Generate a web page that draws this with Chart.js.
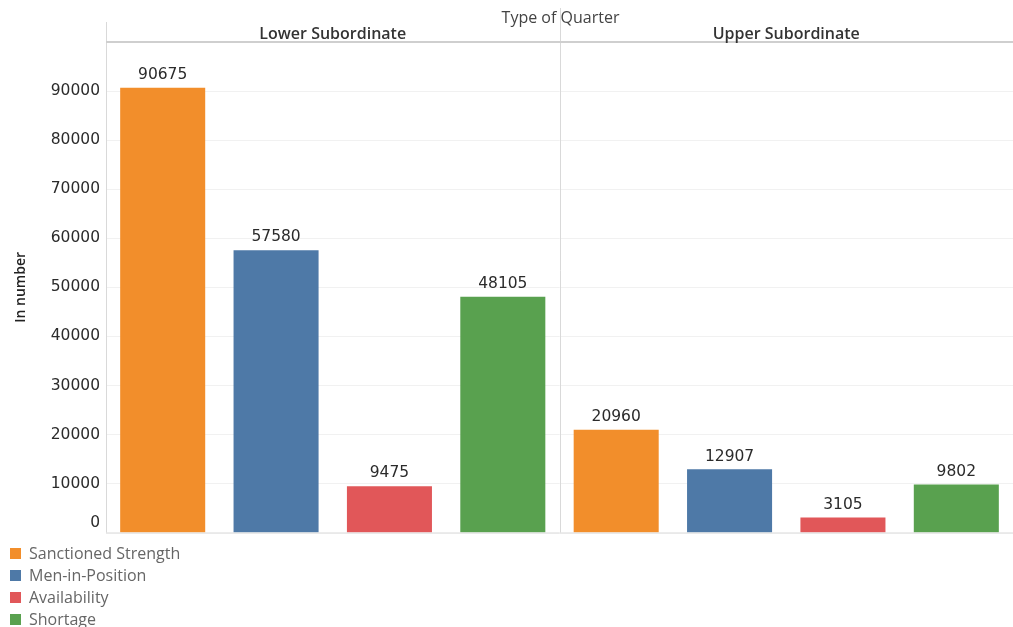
<!DOCTYPE html>
<html>
<head>
<meta charset="utf-8">
<script src="https://cdn.jsdelivr.net/npm/chart.js@4"></script>
<style>
  html, body { margin: 0; padding: 0; background: #fff; }
  #wrap { position: relative; width: 1013px; height: 627px; overflow: hidden; }
  #chartBox { position: absolute; left: 0; top: 0; width: 1013px; height: 548px; }
  #legend { position: absolute; left: 10px; top: 542px; font-family: "Open Sans", sans-serif; font-size: 16px; color: #666; }
  #legend div { height: 22px; line-height: 22px; display: flex; align-items: center; white-space: nowrap; }
  #legend span.sw { display: inline-block; width: 11px; height: 11px; margin-right: 8px; }
</style>
</head>
<body>
<div id="wrap">
  <div id="chartBox"><canvas id="c"></canvas></div>
  <div id="legend"></div>
</div>
<script>
const axisTitle = 'Type of Quarter';
const quarterTypes = ['Lower Subordinate', 'Upper Subordinate'];
const seriesNames = ['Sanctioned Strength', 'Men-in-Position', 'Availability', 'Shortage'];
const seriesColors = ['#F28E2B', '#4E79A7', '#E15759', '#59A14F'];
const sanctionedStrength = [90675, 20960];
const menInPosition = [57580, 12907];
const availability = [9475, 3105];
const shortage = [48105, 9802];
const yTicks = [0, 10000, 20000, 30000, 40000, 50000, 60000, 70000, 80000, 90000];
const yTitle = 'In number';

const seriesValues = [sanctionedStrength, menInPosition, availability, shortage];
const nS = seriesNames.length;

// one slot per (quarter type, series)
const labels = [];
quarterTypes.forEach(q => seriesNames.forEach(s => labels.push(q + ' | ' + s)));

const datasets = seriesNames.map((name, si) => {
  const data = labels.map(() => null);
  quarterTypes.forEach((q, qi) => { data[qi * nS + si] = seriesValues[si][qi]; });
  return {
    label: name,
    data,
    backgroundColor: seriesColors[si],
    borderWidth: 0,
    grouped: false,
    barPercentage: 0.75,
    categoryPercentage: 1.0
  };
});

// HTML legend
const lg = document.getElementById('legend');
seriesNames.forEach((n, i) => {
  const d = document.createElement('div');
  const sw = document.createElement('span');
  sw.className = 'sw';
  sw.style.background = seriesColors[i];
  d.appendChild(sw);
  d.appendChild(document.createTextNode(n));
  lg.appendChild(d);
});

const decor = {
  id: 'decor',
  beforeDatasetsDraw(chart) {
    const ctx = chart.ctx;
    const ca = chart.chartArea;
    const x = chart.scales.x;
    ctx.save();
    ctx.strokeStyle = '#d9d9d9';
    ctx.lineWidth = 1;
    // left axis line
    ctx.beginPath(); ctx.moveTo(106.5, 22); ctx.lineTo(106.5, ca.bottom); ctx.stroke();
    // pane dividers
    for (let q = 1; q < quarterTypes.length; q++) {
      const px = Math.round((x.getPixelForValue(q * nS - 1) + x.getPixelForValue(q * nS)) / 2) + 0.5;
      ctx.beginPath(); ctx.moveTo(px, 8); ctx.lineTo(px, ca.bottom); ctx.stroke();
    }
    // header bottom line
    ctx.strokeStyle = '#cfcfcf';
    ctx.lineWidth = 2;
    ctx.beginPath(); ctx.moveTo(106, ca.top); ctx.lineTo(1013, ca.top); ctx.stroke();
    // baseline
    ctx.strokeStyle = '#e0e0e0';
    ctx.lineWidth = 1;
    ctx.beginPath(); ctx.moveTo(106, ca.bottom + 0.5); ctx.lineTo(1013, ca.bottom + 0.5); ctx.stroke();
    ctx.restore();
  },
  afterDatasetsDraw(chart) {
    const ctx = chart.ctx;
    const x = chart.scales.x;
    ctx.save();
    // value labels
    ctx.fillStyle = '#2b2b2b';
    ctx.font = '15.5px "DejaVu Sans", sans-serif';
    ctx.textAlign = 'center';
    ctx.textBaseline = 'bottom';
    chart.data.datasets.forEach((ds, di) => {
      const meta = chart.getDatasetMeta(di);
      meta.data.forEach((el, i) => {
        const v = ds.data[i];
        if (v === null || v === undefined) return;
        ctx.fillText(String(v), el.x, el.y - 5);
      });
    });
    // headers
    ctx.fillStyle = '#444';
    ctx.font = '16px "Open Sans", sans-serif';
    ctx.textBaseline = 'middle';
    const step = x.getPixelForValue(1) - x.getPixelForValue(0);
    const left = x.getPixelForValue(0) - step / 2;
    const right = x.getPixelForValue(labels.length - 1) + step / 2;
    ctx.fillText(axisTitle, (left + right) / 2 + 1, 18);
    ctx.fillStyle = '#333';
    ctx.font = '600 16px "Open Sans", sans-serif';
    quarterTypes.forEach((q, qi) => {
      const cx = (x.getPixelForValue(qi * nS) + x.getPixelForValue(qi * nS + nS - 1)) / 2;
      ctx.fillText(q, cx, 34);
    });
    // zero tick label (nudged up as in the source)
    const y = chart.scales.y;
    ctx.font = '15.5px "DejaVu Sans", sans-serif';
    ctx.textAlign = 'right';
    ctx.fillStyle = '#2b2b2b';
    ctx.fillText('0', 100, y.getPixelForValue(0) - 10);
    ctx.restore();
  }
};

new Chart(document.getElementById('c'), {
  type: 'bar',
  data: { labels, datasets },
  options: {
    responsive: true,
    maintainAspectRatio: false,
    animation: false,
    layout: { padding: { top: 42, bottom: 10, right: 0, left: 0 } },
    plugins: { legend: { display: false }, tooltip: { enabled: false } },
    scales: {
      x: { display: false },
      y: {
        min: 0,
        max: 100000,
        afterBuildTicks(axis) { axis.ticks = yTicks.map(v => ({ value: v })); },
        afterFit(axis) { axis.width = 106; },
        border: { display: false },
        grid: { color: '#f1f1f1', drawTicks: false },
        ticks: {
          padding: 6,
          color: '#2b2b2b',
          font: { family: '"DejaVu Sans", sans-serif', size: 15.5 },
          callback: v => (v === 0 ? '' : String(v))
        },
        title: {
          display: true,
          text: yTitle,
          color: '#222',
          font: { family: '"Open Sans", sans-serif', size: 14, weight: '600' },
          padding: { top: 13, bottom: 0 }
        }
      }
    }
  },
  plugins: [decor]
});
</script>
</body>
</html>
